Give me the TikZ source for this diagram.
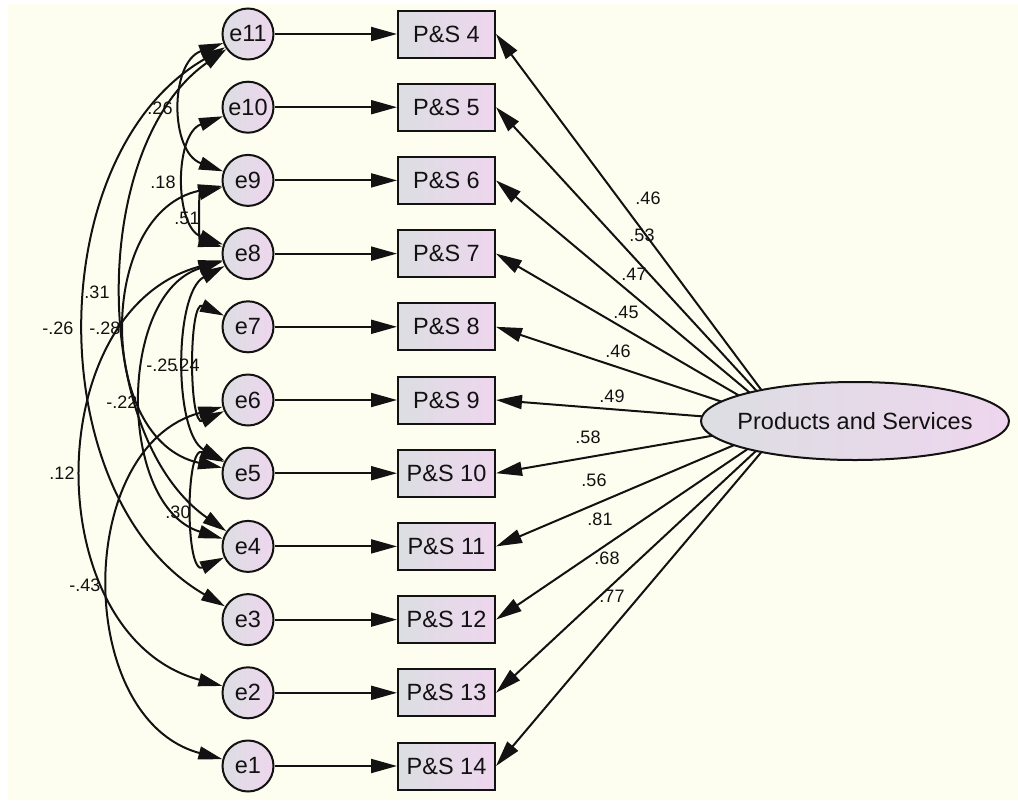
\documentclass[tikz,border=0pt]{standalone}
\usepackage{fontspec}
\setmainfont{Liberation Sans}
\usetikzlibrary{arrows.meta,shapes.geometric}

\definecolor{paper}{RGB}{254,254,240}
\definecolor{shadeL}{RGB}{220,222,226}
\definecolor{shadeR}{RGB}{238,214,238}
\definecolor{ink}{RGB}{18,18,18}

\pgfdeclarelayer{behind}
\pgfsetlayers{behind,main}

\begin{document}
\begin{tikzpicture}[x=1pt,y=1pt,
  nodefont/.style={font=\fontsize{23.5}{28}\selectfont, text=ink},
  coef/.style={font=\fontsize{18}{21}\selectfont, inner sep=0pt, text=ink},
  errnode/.style={nodefont, circle, draw=ink, line width=2pt, minimum size=51pt,
    inner sep=0pt, left color=shadeL, right color=shadeR},
  itembox/.style={nodefont, rectangle, draw=ink, line width=2pt, minimum width=97pt,
    minimum height=47pt, inner sep=0pt, left color=shadeL, right color=shadeR},
  latent/.style={ellipse, draw=ink, line width=2pt, minimum width=308pt,
    minimum height=78pt, inner sep=0pt, left color=shadeL, right color=shadeR},
  loadarrow/.style={draw=ink, line width=2pt, -{Triangle[length=26pt,width=14pt]}},
  covarrow/.style={draw=ink, line width=2pt,
    {Triangle[length=24pt,width=13pt]}-{Triangle[length=24pt,width=13pt]}},
]
% page and background
\useasboundingbox (0,0) rectangle (1018,-804);
\begin{pgfonlayer}{behind}
  \fill[white] (0,0) rectangle (1018,-804);
  \fill[paper] (8,-4) rectangle (1018,-800);
\end{pgfonlayer}

% error terms, indicators and their paths
\foreach \k/\y in {0/34,1/107.2,2/180.4,3/253.6,4/326.8,5/400,6/473.2,7/546.4,8/619.6,9/692.8,10/766}{
  \pgfmathtruncatemacro{\e}{11-\k}
  \pgfmathtruncatemacro{\p}{\k+4}
  \node[errnode] (e\e) at (248,-\y) {e\e};
  \node[itembox] (b\p) at (446.5,-\y) {P\&S \p};
  \draw[loadarrow] (e\e) -- (b\p);
}

% latent factor; its loadings run from a common focus inside the ellipse
\node[latent] (prod) at (855,-421) {};
\node[nodefont] (prodname) at (prod.center) {Products and Services};
\coordinate (hub) at ([xshift=-69pt,yshift=-2pt]prod.center);
\begin{pgfonlayer}{behind}
  \foreach \p in {4,...,14}{
    \draw[loadarrow] (hub) -- (b\p.east);
  }
\end{pgfonlayer}

% standardized loadings
\node[coef] (w4)  at (648,-198) {.46};
\node[coef] (w5)  at (642,-235) {.53};
\node[coef] (w6)  at (634,-274) {.47};
\node[coef] (w7)  at (626,-312) {.45};
\node[coef] (w8)  at (618,-351) {.46};
\node[coef] (w9)  at (612,-396) {.49};
\node[coef] (w10) at (588,-437) {.58};
\node[coef] (w11) at (594,-480) {.56};
\node[coef] (w12) at (600,-519) {.81};
\node[coef] (w13) at (607,-558) {.68};
\node[coef] (w14) at (612,-596) {.77};

% error covariances
\draw[covarrow] (e11) to[out=200,in=160,looseness=1.14] (e9);
\draw[covarrow] (e10) to[out=200,in=160,looseness=1.04] (e8);
\draw[covarrow] (e9)  to[out=195,in=165,looseness=1.05] (e8);
\draw[covarrow] (e11) to[out=215,in=145,looseness=0.89] (e4);
\draw[covarrow] (e11) to[out=210,in=150,looseness=0.98] (e3);
\draw[covarrow] (e9)  to[out=192,in=168,looseness=1.17] (e5);
\draw[covarrow] (e8)  to[out=208,in=152,looseness=0.76] (e5);
\draw[covarrow] (e7)  to[out=155,in=205,looseness=1.05] (e6);
\draw[covarrow] (e8)  to[out=197,in=163,looseness=1.02] (e4);
\draw[covarrow] (e8)  to[out=195,in=165,looseness=1.15] (e2);
\draw[covarrow] (e5)  to[out=155,in=205,looseness=1.15] (e4);
\draw[covarrow] (e6)  to[out=195,in=165,looseness=1.12] (e1);

% covariance values
\node[coef] (c1)  at (160,-108) {.26};
\node[coef] (c2)  at (163,-182) {.18};
\node[coef] (c3)  at (187,-218) {.51};
\node[coef] (c4)  at (97,-292)  {.31};
\node[coef] (c5)  at (58,-328)  {-.26};
\node[coef] (c6)  at (105,-328) {-.28};
\node[coef] (c7)  at (162,-365) {-.25};
\node[coef] (c8)  at (187,-365) {.24};
\node[coef] (c9)  at (122,-402) {-.22};
\node[coef] (c10) at (62,-473)  {.12};
\node[coef] (c11) at (178,-512) {.30};
\node[coef] (c12) at (85,-585)  {-.43};
\end{tikzpicture}
\end{document}
